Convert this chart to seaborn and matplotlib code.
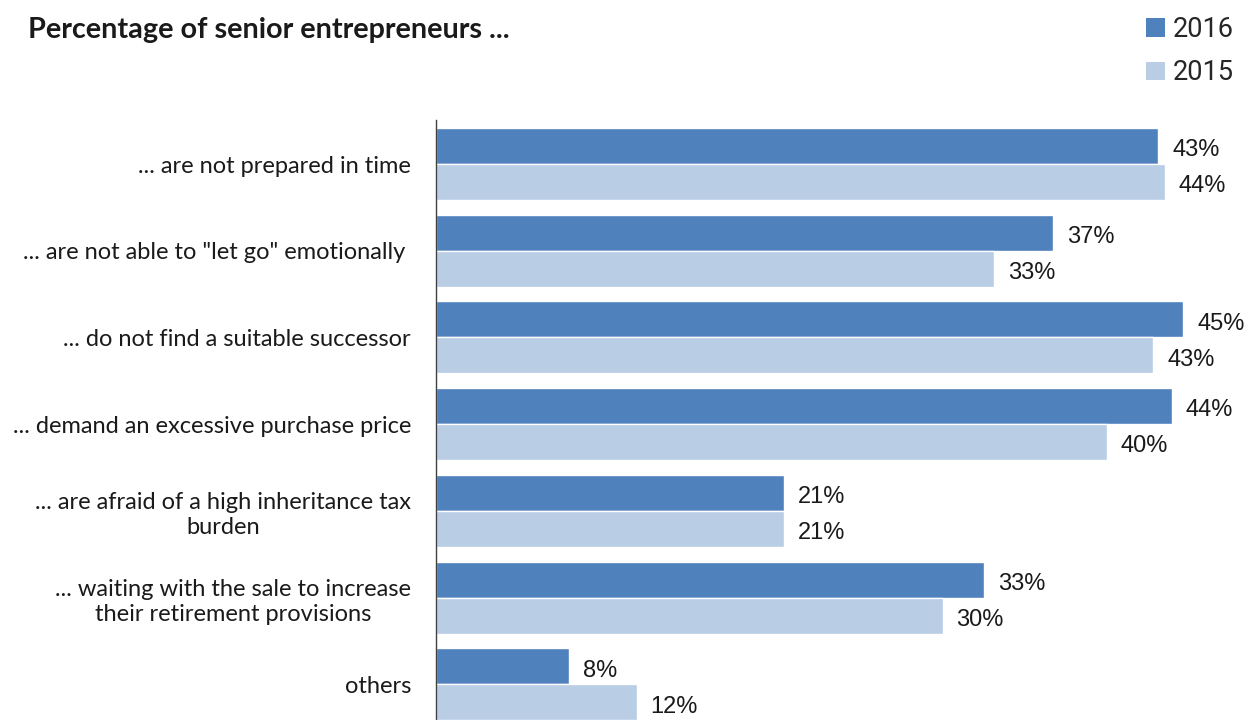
import matplotlib
matplotlib.use("Agg")
import matplotlib.pyplot as plt
import seaborn as sns
import pandas as pd
from matplotlib.patches import Patch

categories = [
    '... are not prepared in time',
    '... are not able to "let go" emotionally ',
    '... do not find a suitable successor',
    '... demand an excessive purchase price',
    '... are afraid of a high inheritance tax\nburden',
    '... waiting with the sale to increase\ntheir retirement provisions',
    'others',
]
# values (labels shown rounded)
values_2016 = [43.2, 36.9, 44.7, 44.0, 20.8, 32.8, 7.95]
values_2015 = [43.6, 33.4, 42.9, 40.1, 20.8, 30.3, 12.0]
years = ['2016', '2015']
colors = {'2016': '#4F81BD', '2015': '#B9CDE5'}

rows = []
for c, v in zip(categories, values_2016):
    rows.append({'category': c, 'year': '2016', 'value': v})
for c, v in zip(categories, values_2015):
    rows.append({'category': c, 'year': '2015', 'value': v})
df = pd.DataFrame(rows)

sns.set_theme(style="white")
plt.rcParams['font.family'] = ['Lato', 'DejaVu Sans']

fig = plt.figure(figsize=(12.5, 7.2), dpi=100)
ax = fig.add_axes([0.3488, 0.0, 0.6512, 0.8333])

sns.barplot(data=df, y='category', x='value', hue='year', hue_order=years,
            order=categories, palette=colors, orient='h', width=0.83,
            dodge=True, ax=ax, legend=False, saturation=1, errorbar=None)

for cont in ax.containers:
    labels = [f"{int(round(b.get_width()))}%" for b in cont]
    anns = ax.bar_label(cont, labels=labels, padding=10, fontsize=17,
                        family=['Liberation Sans', 'DejaVu Sans'],
                        color='#1a1a1a', clip_on=False)
    for a in anns:
        x0, y0 = a.xyann
        a.xyann = (x0, y0 - 3)

ax.set_xlim(0, 48.68)
ax.set_ylim(6.41, -0.507)
ax.set_xlabel('')
ax.set_ylabel('')
ax.set_xticks([])
for s in ['top', 'right', 'bottom']:
    ax.spines[s].set_visible(False)
ax.spines['left'].set_color('#404040')
ax.spines['left'].set_linewidth(1.0)
ax.tick_params(axis='y', length=0, pad=18, labelsize=17, labelcolor='#1a1a1a')
for t in ax.get_yticklabels():
    t.set_multialignment('center')
    t.set_linespacing(1.25)

fig.text(28 / 1250, 1 - 30 / 720, 'Percentage of senior entrepreneurs ...',
         fontsize=20.7, fontweight='bold', ha='left', va='center', color='#1a1a1a')

handles = [Patch(facecolor=colors[y], edgecolor='none', label=y) for y in years]
fig.legend(handles=handles, loc='upper right', bbox_to_anchor=(1.0, 1.0),
           frameon=False, prop={'family': ['Roboto', 'DejaVu Sans'], 'size': 19.5},
           handlelength=0.7, handleheight=0.7,
           handletextpad=0.3, labelspacing=0.6, borderaxespad=0.2)

fig.savefig('out.png', dpi=100)
